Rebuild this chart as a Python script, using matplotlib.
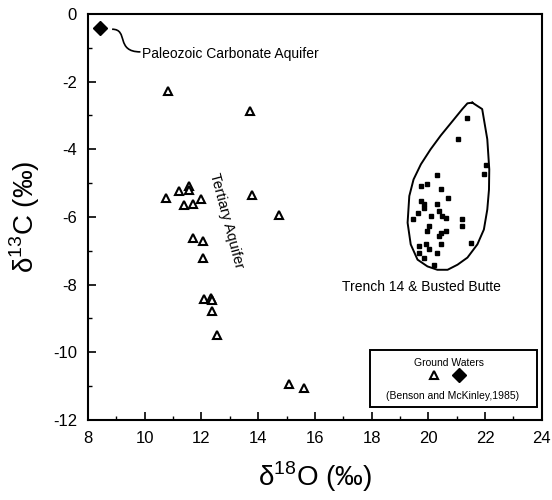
import numpy as np
import matplotlib.pyplot as plt
from matplotlib.path import Path
from matplotlib.patches import PathPatch, Rectangle
from matplotlib.ticker import MultipleLocator

plt.rcParams['font.family'] = ['Liberation Sans', 'DejaVu Sans']
plt.rcParams['axes.unicode_minus'] = False
plt.rcParams['mathtext.fontset'] = 'custom'
plt.rcParams['mathtext.rm'] = 'Liberation Sans'

# Paleozoic carbonate aquifer
paleo_x = [8.44]
paleo_y = [-0.41]

# Tertiary aquifer (open triangles)
tert_x = [10.81, 13.71, 10.75, 11.22, 11.55, 11.57, 11.40, 11.69, 12.00, 13.77,
          14.72, 11.72, 12.06, 12.04, 12.10, 12.33, 12.39, 12.39, 12.54, 15.10, 15.62]
tert_y = [-2.27, -2.87, -5.43, -5.23, -5.09, -5.19, -5.66, -5.63, -5.48, -5.36,
          -5.93, -6.62, -6.72, -7.21, -8.43, -8.40, -8.44, -8.79, -9.48, -10.93, -11.06]

# Trench 14 & Busted Butte (filled dots)
trench_x = [21.38, 21.06, 22.02, 21.98, 20.29, 19.74, 19.97, 20.46, 20.70, 19.74,
            19.86, 19.84, 20.30, 19.62, 19.45, 20.09, 20.38, 20.50, 20.62, 20.03,
            19.97, 20.44, 20.62, 20.38, 21.20, 21.20, 20.44, 21.49, 19.68, 19.92,
            20.03, 19.68, 20.32, 19.86, 20.21]
trench_y = [-3.06, -3.68, -4.47, -4.74, -4.77, -5.09, -5.02, -5.17, -5.43, -5.53,
            -5.63, -5.73, -5.63, -5.88, -6.07, -5.98, -5.83, -5.98, -6.02, -6.27,
            -6.42, -6.47, -6.42, -6.57, -6.07, -6.27, -6.81, -6.76, -6.86, -6.81,
            -6.96, -7.06, -7.06, -7.21, -7.43]

# outline around the trench samples
outline_x = [21.55, 21.90, 22.08, 22.15, 22.14, 22.08, 21.96, 21.73, 21.38, 21.03,
             20.68, 20.32, 19.97, 19.62, 19.38, 19.27, 19.33, 19.48, 19.74, 20.08,
             20.44, 20.85, 21.20, 21.38, 21.55]
outline_y = [-2.62, -2.81, -3.70, -4.59, -5.19, -5.78, -6.37, -6.81, -7.20, -7.41,
             -7.56, -7.56, -7.46, -7.26, -6.81, -6.17, -5.38, -4.89, -4.44, -4.00,
             -3.59, -3.17, -2.81, -2.64, -2.62]

fig = plt.figure(figsize=(5.52, 5.00), dpi=100)
ax = fig.add_axes([0.1594, 0.16, 0.822, 0.812])

ax.plot(outline_x, outline_y, color='black', lw=1.4)
ax.plot(trench_x, trench_y, 's', color='black', ms=3.2, ls='none')
ax.plot(tert_x, tert_y, '^', mfc='white', mec='black', mew=1.5, ms=6, ls='none')
ax.plot(paleo_x, paleo_y, 'D', color='black', ms=7, ls='none')

# curly connector from the diamond to its label
verts = [(8.85, -0.45), (9.45, -0.45), (8.95, -1.12), (9.85, -1.12)]
codes = [Path.MOVETO, Path.CURVE4, Path.CURVE4, Path.CURVE4]
ax.add_patch(PathPatch(Path(verts, codes), fc='none', ec='black', lw=1.2))

ax.text(9.9, -1.17, 'Paleozoic Carbonate Aquifer', fontsize=10, va='center', ha='left')
ax.text(12.9, -6.1, 'Tertiary Aquifer', fontsize=10.5, rotation=-75,
        va='center', ha='center')
ax.text(19.76, -8.06, 'Trench 14 & Busted Butte', fontsize=10, va='center', ha='center')

# legend box
ax.add_patch(Rectangle((0.621, 0.032), 0.368, 0.141, transform=ax.transAxes,
                       fill=False, ec='black', lw=1.4))
ax.text(0.795, 0.14, 'Ground Waters', transform=ax.transAxes, fontsize=7.5,
        ha='center', va='center')
ax.plot([0.763], [0.11], '^', transform=ax.transAxes, mfc='white', mec='black',
        mew=1.5, ms=6)
ax.plot([0.818], [0.11], 'D', transform=ax.transAxes, color='black', ms=7)
ax.text(0.803, 0.058, '(Benson and McKinley,1985)', transform=ax.transAxes,
        fontsize=7.5, ha='center', va='center')

ax.set_xlim(8, 24)
ax.set_ylim(-12, 0)
ax.xaxis.set_major_locator(MultipleLocator(2))
ax.xaxis.set_minor_locator(MultipleLocator(1))
ax.yaxis.set_major_locator(MultipleLocator(2))
ax.yaxis.set_minor_locator(MultipleLocator(1))
ax.tick_params(which='both', direction='in', top=False, right=False, labelsize=12)
ax.tick_params(which='major', length=6, width=1.2, pad=8)
ax.tick_params(which='minor', length=3, width=1)
for s in ax.spines.values():
    s.set_linewidth(1.5)

ax.set_xlabel(r'δ$^{18}$O (‰)', fontsize=20, labelpad=10)
ax.set_ylabel(r'δ$^{13}$C (‰)', fontsize=20, labelpad=8)

fig.savefig('out.png', dpi=100)
